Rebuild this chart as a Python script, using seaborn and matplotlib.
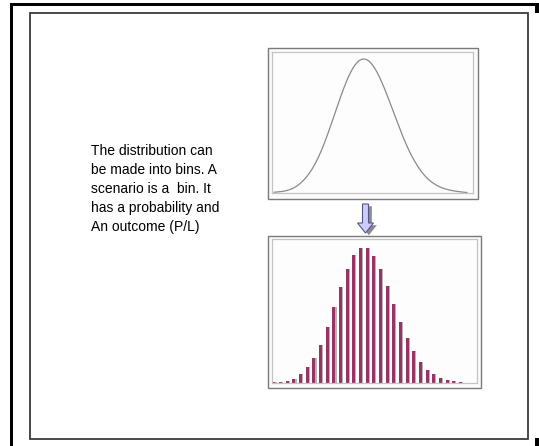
import matplotlib
matplotlib.use("Agg")
import matplotlib.pyplot as plt
from matplotlib.patches import Rectangle, Polygon
from matplotlib import patheffects as pe
import pandas as pd
import seaborn as sns

# Scenario bins and their relative probability
scenario = list(range(30))
probability = [2, 4, 5, 13, 26, 47, 75, 115, 168, 227, 287, 343, 384, 405, 405,
               382, 343, 292, 237, 183, 134, 95, 64, 40, 26, 16, 9, 6, 3, 1]

caption = ("The distribution can\nbe made into bins. A\nscenario is a  bin. It\n"
           "has a probability and\nAn outcome (P/L)")

W, H = 539, 446
sns.set_style("white")
plt.rcParams["font.family"] = ["Liberation Sans", "DejaVu Sans"]

fig = plt.figure(figsize=(W / 100, H / 100), dpi=100)
fig.patch.set_facecolor("white")


def px_axes(x0, y0, x1, y1):
    return fig.add_axes([x0 / W, 1 - y1 / H, (x1 - x0) / W, (y1 - y0) / H])


# Page layer in pixel coordinates
page = px_axes(0, 0, W, H)
page.set_xlim(0, W)
page.set_ylim(H, 0)
page.axis("off")

# Slide border
for r in [(10, 3, 529, 2.6), (10, 3, 2.6, 443), (535, 3, 4, 10), (535, 438, 4, 8)]:
    page.add_patch(Rectangle(r[:2], r[2], r[3], color="black", lw=0))
page.add_patch(Rectangle((29.5, 12.5), 498, 426, fill=False, ec="#3a3a3a", lw=1.3))

# Panel frames
page.add_patch(Rectangle((267.5, 47.5), 210, 151, fc="#fbfbfb", ec="#7a7a7a", lw=1.0))
page.add_patch(Rectangle((267.5, 235.5), 213, 152, fc="#fbfbfb", ec="#7a7a7a", lw=1.0))

# Down arrow between the panels
arrow = Polygon([(362.5, 204), (368.5, 204), (368.5, 223), (373.5, 223),
                 (365.5, 233), (357.5, 223), (362.5, 223)], closed=True,
                fc="#ccccff", ec="#55558a", lw=0.8)
arrow.set_path_effects([pe.SimplePatchShadow(offset=(2.4, -1.6), shadow_rgbFace="#8a8a8a", alpha=1),
                        pe.Normal()])
page.add_patch(arrow)

page.text(91, 144, caption, ha="left", va="top", fontsize=10, linespacing=1.45,
          color="black")

df = pd.DataFrame({"scenario": scenario, "probability": probability})

# Continuous distribution
ax1 = px_axes(272, 52, 473, 193)
sns.kdeplot(data=df, x="scenario", weights="probability", bw_method=0.22, cut=0,
            color="#8a8a8a", lw=0.9, ax=ax1)
peak = ax1.lines[0].get_ydata().max()
ax1.set_ylim(0, peak / 0.95)
ax1.set_xlim(-0.30, 29.90)

# Binned distribution
ax2 = px_axes(272, 239, 477, 383)
sns.barplot(data=df, x="scenario", y="probability", width=0.45,
            color="#993366", saturation=1, errorbar=None, linewidth=0, ax=ax2)
for bar in ax2.patches:
    bar.set_path_effects([pe.SimplePatchShadow(offset=(0.8, 0), shadow_rgbFace="#b4b4b4", alpha=1),
                          pe.Normal()])
ax2.set_ylim(0, 432)
ax2.set_xlim(-0.30, 30.50)

for ax in (ax1, ax2):
    ax.set_facecolor("#fdfdfd")
    ax.set(xlabel="", ylabel="", xticks=[], yticks=[])
    for s in ax.spines.values():
        s.set_color("#c4c4c4")
        s.set_linewidth(0.9)

fig.savefig("out.png", dpi=100)
